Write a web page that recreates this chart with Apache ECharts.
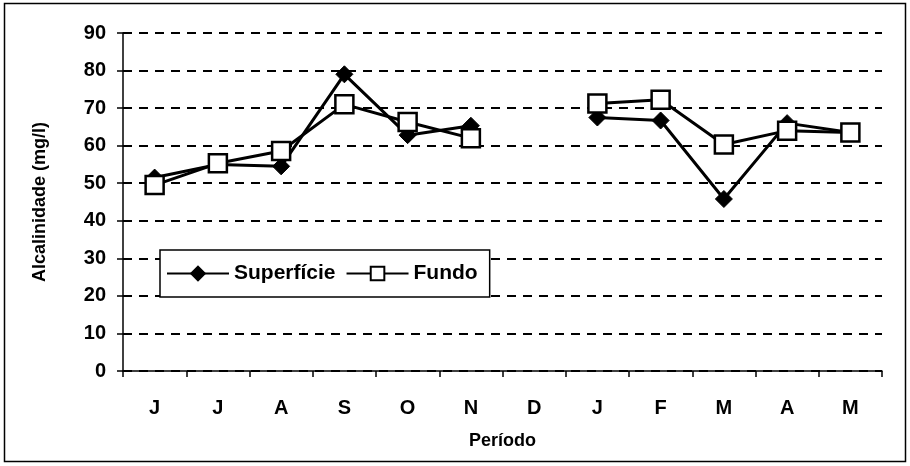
<!DOCTYPE html>
<html>
<head>
<meta charset="utf-8">
<script src="https://cdn.jsdelivr.net/npm/echarts@6/dist/echarts.min.js"></script>
<style>
  html, body { margin: 0; padding: 0; background: #fff; }
  #chart { width: 910px; height: 466px; }
</style>
</head>
<body>
<div id="chart"></div>
<script>
// meses (jun a mai)
const periodos = ['J', 'J', 'A', 'S', 'O', 'N', 'D', 'J', 'F', 'M', 'A', 'M']
const superficie = [51.5, 55, 54.5, 79, 62.8, 65.3, null, 67.5, 66.7, 45.8, 66, 63.5]
const fundo = [49.5, 55.3, 58.6, 71, 66.3, 62, null, 71.2, 72.2, 60.3, 64, 63.5]
const yTicks = [0, 10, 20, 30, 40, 50, 60, 70, 80, 90]

const font = 'Liberation Sans'
const chart = echarts.init(document.getElementById('chart'))

const option = {
  backgroundColor: '#fff',
  animation: false,
  graphic: [{
    type: 'rect',
    shape: { x: 4.5, y: 3.5, width: 901, height: 458 },
    style: { fill: 'none', stroke: '#000', lineWidth: 1.5 },
    silent: true
  }],
  grid: {
    left: 123,
    right: 28,
    top: 33,
    bottom: 95
  },
  legend: {
    left: 160,
    top: 250,
    orient: 'horizontal',
    itemWidth: 62,
    itemHeight: 17,
    itemGap: 10,
    padding: [13, 12, 13, 6],
    backgroundColor: '#fff',
    borderColor: '#000',
    borderWidth: 1.5,
    borderRadius: 0,
    textStyle: {
      fontFamily: font,
      fontWeight: 'bold',
      fontSize: 21,
      color: '#000'
    },
    data: ['Superfície', 'Fundo']
  },
  xAxis: {
    type: 'category',
    data: periodos,
    boundaryGap: true,
    name: 'Período',
    nameLocation: 'middle',
    nameGap: 61,
    nameTextStyle: {
      fontFamily: font,
      fontWeight: 'bold',
      fontSize: 18,
      color: '#000'
    },
    axisLine: { lineStyle: { color: '#000', width: 1.5 } },
    axisTick: {
      show: true,
      alignWithLabel: false,
      length: 6,
      lineStyle: { color: '#000', width: 1.5 }
    },
    axisLabel: {
      margin: 27,
      fontFamily: font,
      fontWeight: 'bold',
      fontSize: 20,
      color: '#000'
    },
    splitLine: { show: false }
  },
  yAxis: {
    type: 'value',
    min: 0,
    max: 90,
    interval: 10,
    name: 'Alcalinidade (mg/l)',
    nameLocation: 'middle',
    nameGap: 74,
    nameRotate: 90,
    nameTextStyle: {
      fontFamily: font,
      fontWeight: 'bold',
      fontSize: 18,
      color: '#000'
    },
    axisLine: { show: true, lineStyle: { color: '#000', width: 1.5 } },
    axisTick: {
      show: true,
      inside: false,
      length: 6,
      lineStyle: { color: '#000', width: 1.5 }
    },
    axisLabel: {
      margin: 17,
      fontFamily: font,
      fontWeight: 'bold',
      fontSize: 20,
      color: '#000',
      formatter: v => (yTicks.indexOf(v) >= 0 ? String(v) : '')
    },
    splitLine: {
      show: true,
      lineStyle: { color: '#000', width: 2, type: [9, 7] }
    }
  },
  series: [
    {
      name: 'Superfície',
      type: 'line',
      data: superficie,
      connectNulls: false,
      symbol: 'diamond',
      symbolSize: 17,
      color: '#000',
      lineStyle: { color: '#000', width: 3 },
      itemStyle: { color: '#000', borderColor: '#000', borderWidth: 1 },
      z: 2
    },
    {
      name: 'Fundo',
      type: 'line',
      data: fundo,
      connectNulls: false,
      symbol: 'rect',
      symbolSize: 18,
      color: '#000',
      lineStyle: { color: '#000', width: 3 },
      itemStyle: { color: '#fff', borderColor: '#000', borderWidth: 2.5 },
      z: 3
    }
  ]
}

chart.setOption(option)
window.onresize = () => {
  chart.resize()
}
</script>
</body>
</html>
